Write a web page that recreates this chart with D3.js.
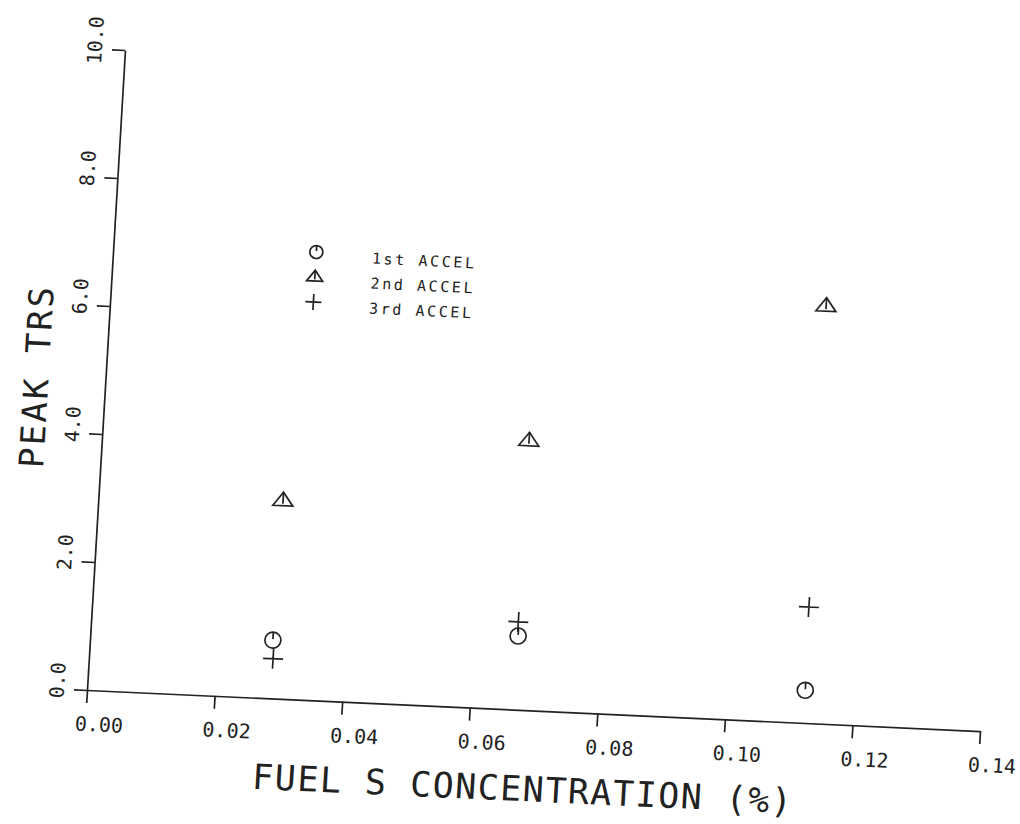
<!DOCTYPE html>
<html>
<head>
<meta charset="utf-8">
<script src="https://cdn.jsdelivr.net/npm/d3@7"></script>
<style>
  body { margin: 0; background: #fff; }
  text { font-family: "DejaVu Sans Mono", "Liberation Mono", monospace; fill: #222; }
  .axis path, .axis line { stroke: #222; stroke-width: 1.7; fill: none; }
  .mark { stroke: #222; stroke-width: 1.7; fill: none; }
</style>
</head>
<body>
<div id="chart"></div>
<script>
// data
var xTicks = [0, 0.02, 0.04, 0.06, 0.08, 0.10, 0.12, 0.14];
var yTicks = [0, 2, 4, 6, 8, 10];
var seriesNames = ["1st ACCEL", "2nd ACCEL", "3rd ACCEL"];
var accel1 = [[0.0286, 0.91], [0.0669, 1.15], [0.1123, 0.51]];
var accel2 = [[0.0289, 3.09], [0.0668, 4.20], [0.1120, 6.51]];
var accel3 = [[0.0288, 0.62], [0.0668, 1.37], [0.1121, 1.81]];

var W = 894, H = 641;

var svg = d3.select("#chart").append("svg")
    .attr("width", 1020)
    .attr("height", 824);

// the scan is slightly skewed, so the whole plot frame is tilted
var g = svg.append("g")
    .attr("transform", "matrix(0.9989,0.0459,-0.0593,0.9984,87,690)");

var x = d3.scaleLinear().domain([0, 0.14]).range([0, W]);
var y = d3.scaleLinear().domain([0, 10]).range([0, -H]);

// x axis
var xAxis = g.append("g")
    .attr("class", "axis")
    .call(d3.axisBottom(x).tickValues(xTicks).tickSize(13).tickSizeOuter(0)
        .tickFormat(d3.format(".2f")));
xAxis.selectAll("text")
    .attr("x", 13.5).attr("y", 41).attr("dy", null)
    .style("font-size", "20px")
    .attr("text-anchor", "middle");

// y axis
var yAxis = g.append("g")
    .attr("class", "axis")
    .call(d3.axisLeft(y).tickValues(yTicks).tickSize(13).tickSizeOuter(0)
        .tickFormat(d3.format(".1f")));
yAxis.selectAll("text")
    .attr("x", null).attr("dy", null)
    .attr("transform", "translate(-23,-9) rotate(-90)")
    .style("font-size", "20px")
    .attr("text-anchor", "middle");
g.selectAll(".axis text").attr("fill", "#222");

// axis titles
g.append("text")
    .attr("x", W / 2 - 6).attr("y", 91)
    .attr("text-anchor", "middle")
    .style("font-size", "35px")
    .style("letter-spacing", "1.5px")
    .text("FUEL S CONCENTRATION (%)");

g.append("text")
    .attr("transform", "translate(-57,-311) rotate(-90)")
    .attr("text-anchor", "middle")
    .style("font-size", "34px")
    .style("letter-spacing", "2.5px")
    .text("PEAK TRS");

// symbols
function drawCircle(sel, r) {
  sel.append("circle").attr("class", "mark").attr("r", r);
  sel.append("line").attr("class", "mark")
     .attr("x1", 0).attr("y1", -r).attr("x2", 0).attr("y2", -1);
}
function drawTriangle(sel, s) {
  sel.append("path").attr("class", "mark")
     .attr("d", "M" + (-s) + "," + (s * 0.5) + "L0," + (-s * 0.85) + "L" + s + "," + (s * 0.5) + "Z");
  sel.append("line").attr("class", "mark")
     .attr("x1", 0).attr("y1", -s * 0.85).attr("x2", 0).attr("y2", s * 0.3);
}
function drawPlus(sel, s) {
  sel.append("path").attr("class", "mark")
     .attr("d", "M" + (-s) + ",0H" + s + "M0," + (-s) + "V" + s);
}
var drawers = [drawCircle, drawTriangle, drawPlus];
var dataSets = [accel1, accel2, accel3];

dataSets.forEach(function(data, i) {
  g.append("g").selectAll("g")
      .data(data)
      .enter()
      .append("g")
      .attr("transform", function(d) { return "translate(" + x(d[0]) + "," + y(d[1]) + ")"; })
      .each(function() { drawers[i](d3.select(this), i === 0 ? 8 : 10); });
});

// legend
var legend = g.append("g").attr("transform", "translate(203,-448)");
seriesNames.forEach(function(name, i) {
  var row = legend.append("g").attr("transform", "translate(0," + (i * 25) + ")");
  drawers[i](row.append("g"), i === 0 ? 6.5 : 8);
  row.append("text")
     .attr("x", 56).attr("y", 9)
     .style("font-size", "15px")
     .style("letter-spacing", "2.6px")
     .text(name);
});
</script>
</body>
</html>
